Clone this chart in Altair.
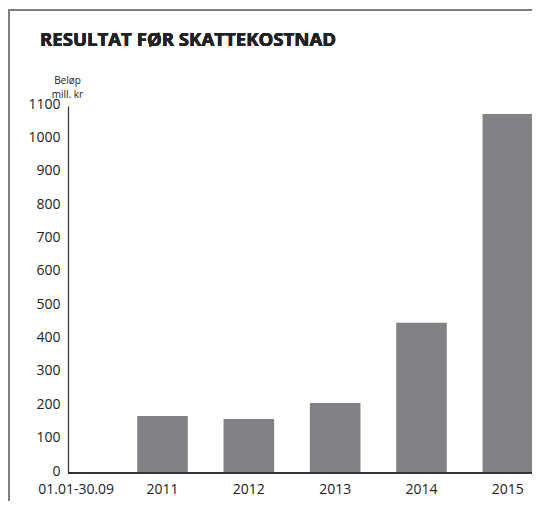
import altair as alt
import pandas as pd

TITLE = "RESULTAT FØR SKATTEKOSTNAD"
Y_TITLE = ["Beløp", "mill. kr"]
categories = ["01.01-30.09", "2011", "2012", "2013", "2014", "2015"]
values = [None, 171, 162, 210, 450, 1076]
y_ticks = [0, 100, 200, 300, 400, 500, 600, 700, 800, 900, 1000, 1100]

df = pd.DataFrame({"periode": categories, "belop": values})

W, H = 464, 367
FONT = "Open Sans"

bars = alt.Chart(df).mark_bar(color="#818285").encode(
    x=alt.X(
        "periode:N",
        sort=categories,
        scale=alt.Scale(domain=categories, range=[-35, 483], paddingInner=0.414, paddingOuter=0.207),
        axis=alt.Axis(
            title=None, labelAngle=0, ticks=False, labelPadding=9, domain=False, labelOverlap=False,
            labelFont=FONT, labelFontSize=14, labelColor="#222222",
        ),
    ),
    y=alt.Y(
        "belop:Q",
        scale=alt.Scale(domain=[0, 1100], nice=False),
        axis=alt.Axis(
            values=y_ticks, format="d", grid=False, ticks=False, labelPadding=8, labelOffset=-2,
            labelOverlap=False,
            labelFont=FONT, labelFontSize=14, labelColor="#222222",
            domainColor="#333333", domainWidth=1.2,
            title=Y_TITLE, titleAngle=0, titleAlign="center", titleBaseline="bottom",
            titleX=-1, titleY=-21, titleFont=FONT, titleFontSize=10,
            titleFontWeight="normal", titleColor="#222222", titleLineHeight=14,
        ),
    ),
)

# x-axis base line, drawn from the y-axis to the right edge of the plot
baseline = alt.Chart(df).mark_rect(color="#333333").encode(
    x=alt.value(0), x2=alt.value(W), y=alt.value(H - 0.7), y2=alt.value(H + 0.7)
)

frame = alt.Chart(df).mark_rect(fill=None, stroke="#7f7f7f", strokeWidth=2, clip=False).encode(
    x=alt.value(-59), x2=alt.value(W + 100), y=alt.value(-96), y2=alt.value(H + 80)
)

title = alt.Chart(df).mark_text(
    align="left", baseline="alphabetic", font=FONT, fontSize=18.6, fontWeight="bold", color="#222222"
).encode(x=alt.value(-28), y=alt.value(-60), text=alt.value(TITLE))

chart = alt.layer(frame, bars, baseline, title).properties(
    width=W, height=H,
    background="white",
    autosize=alt.AutoSizeParams(type="none"),
    padding={"left": 60, "top": 98, "right": 0, "bottom": 28},
).configure_view(stroke=None)

chart.save("out.html", embed_options={"renderer": "svg", "actions": False})
